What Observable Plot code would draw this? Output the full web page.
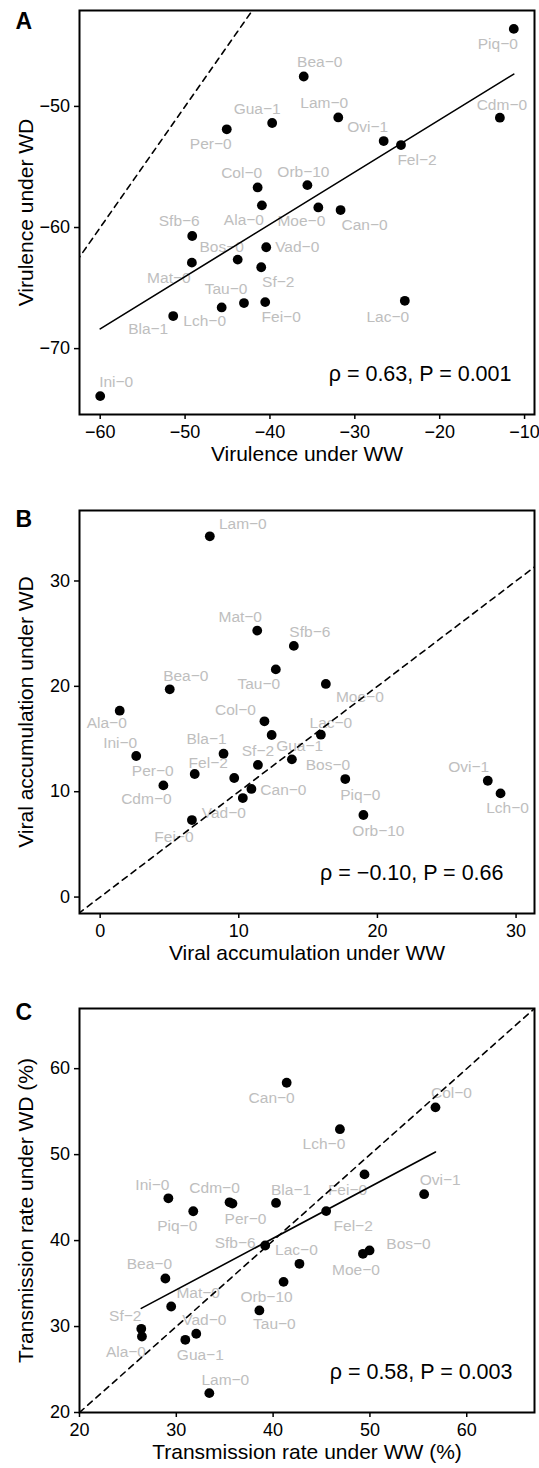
<!DOCTYPE html>
<html><head><meta charset="utf-8">
<script src="https://cdn.jsdelivr.net/npm/d3@7"></script>
<script src="https://cdn.jsdelivr.net/npm/@observablehq/plot@0.6"></script>
<style>
body{margin:0;background:#fff;}
#chart{width:539px;}
#chart svg{display:block;}
</style></head><body><div id="chart"></div>
<script>
// ---------- data ----------
const accessions = ["Ala-0","Bea-0","Bla-1","Bos-0","Can-0","Cdm-0","Col-0","Fei-0","Fel-2","Gua-1","Ini-0","Lac-0","Lam-0","Lch-0","Mat-0","Moe-0","Orb-10","Ovi-1","Per-0","Piq-0","Sf-2","Sfb-6","Tau-0","Vad-0"];

// A: virulence
const virulenceWW = [-40.95,-36.02,-51.40,-43.80,-31.68,-12.91,-41.45,-40.56,-24.56,-39.74,-60.00,-24.11,-31.95,-45.69,-49.20,-34.30,-35.59,-26.60,-45.09,-11.27,-41.03,-49.16,-43.06,-40.44];
const virulenceWD = [-58.17,-47.53,-67.31,-62.65,-58.56,-50.93,-56.69,-66.16,-53.19,-51.37,-73.92,-66.05,-50.91,-66.60,-62.90,-58.34,-56.50,-52.86,-51.89,-43.60,-63.28,-60.70,-66.24,-61.63];

// B: viral accumulation
const accumWW = [1.41,5.02,8.90,13.83,10.91,4.56,11.85,6.62,9.67,12.37,2.60,15.92,7.91,28.88,11.33,16.28,18.99,27.96,6.82,17.68,11.38,13.97,12.67,10.29];
const accumWD = [17.69,19.72,13.61,13.07,10.26,10.60,16.68,7.31,11.30,15.38,13.39,15.41,34.24,9.84,25.29,20.23,7.79,11.04,11.68,11.20,12.54,23.84,21.61,9.40];

// C: transmission rate (%)
const transWW = [26.45,28.87,40.30,49.96,41.40,35.50,56.77,49.44,45.48,30.93,29.18,42.72,33.41,46.90,29.47,49.28,41.08,55.60,35.80,31.75,26.38,39.18,38.58,32.06];
const transWD = [28.84,35.59,44.38,38.85,58.36,44.45,55.50,47.70,43.43,28.46,44.92,37.30,22.25,52.96,32.33,38.46,35.20,45.40,44.30,43.41,29.74,39.43,31.87,29.16];

// axis ticks / domains
const ticksAx = [-60,-50,-40,-30,-20,-10], ticksAy = [-70,-60,-50];
const ticksBx = [0,10,20,30], ticksBy = [0,10,20,30];
const ticksCx = [20,30,40,50,60], ticksCy = [20,30,40,50,60];
const domainAx = [-62.44,-8.83], domainAy = [-75.44,-42.08];
const domainBx = [-1.49,31.33], domainBy = [-1.56,36.69];
const domainCx = [20,67], domainCy = [20,67];

const statA = "ρ = 0.63, P = 0.001";
const statB = "ρ = −0.10, P = 0.66";
const statC = "ρ = 0.58, P = 0.003";

// label placement (pixel offsets, layout only)
const offsetsA = {"Ala-0":[-18,15],"Bea-0":[16,-14],"Bla-1":[-25,13],"Bos-0":[-16,-13],"Can-0":[24,15],"Cdm-0":[2,-13],"Col-0":[-16,-14],"Fei-0":[16,15],"Fel-2":[16,15],"Gua-1":[-15,-14],"Ini-0":[16,-14],"Lac-0":[-17,16],"Lam-0":[-14,-14],"Lch-0":[-17,14],"Mat-0":[-23,15],"Moe-0":[-17,14],"Orb-10":[-4,-13],"Ovi-1":[-16,-14],"Per-0":[-16,15],"Piq-0":[-16,15],"Sf-2":[17,15],"Sfb-6":[-13,-15],"Tau-0":[-18,-14],"Vad-0":[31,0]};
const offsetsB = {"Ala-0":[-13,12],"Bea-0":[16,-13],"Bla-1":[-17,-15],"Bos-0":[36,6],"Can-0":[32,1],"Cdm-0":[-17,14],"Col-0":[-29,-11],"Fei-0":[-18,17],"Fel-2":[-26,-15],"Gua-1":[28,11],"Ini-0":[-16,-13],"Lac-0":[10,-12],"Lam-0":[33,-12],"Lch-0":[7,15],"Mat-0":[-17,-14],"Moe-0":[34,13],"Orb-10":[15,16],"Ovi-1":[-19,-14],"Per-0":[-42,-3],"Piq-0":[15,16],"Sf-2":[0,-14],"Sfb-6":[16,-14],"Tau-0":[-17,15],"Vad-0":[-19,15]};
const offsetsC = {"Ala-0":[-16,16],"Bea-0":[-16,-14],"Bla-1":[15,-13],"Bos-0":[39,-6],"Can-0":[-15,15],"Cdm-0":[-15,-14],"Col-0":[16,-14],"Fei-0":[-17,16],"Fel-2":[27,15],"Gua-1":[15,15],"Ini-0":[-16,-13],"Lac-0":[-3,-14],"Lam-0":[16,-13],"Lch-0":[-16,15],"Mat-0":[27,-13],"Moe-0":[-7,16],"Orb-10":[-17,15],"Ovi-1":[16,-14],"Per-0":[13,15],"Piq-0":[-16,15],"Sf-2":[-16,-13],"Sfb-6":[-30,-2],"Tau-0":[15,14],"Vad-0":[8,-14]};

// ---------- drawing ----------
const FONT = '"Liberation Sans", Arial, Helvetica, sans-serif';
const fmt = d3.format("d");

function panel(cfg) {
  const data = accessions.map((name, i) => ({name, x: cfg.xs[i], y: cfg.ys[i]}));
  const lo = Math.min(cfg.xDomain[0], cfg.yDomain[0]);
  const hi = Math.max(cfg.xDomain[1], cfg.yDomain[1]);
  const identity = [{v: lo}, {v: hi}];
  const marks = [];
  for (const d of data) {
    const [dx, dy] = cfg.offsets[d.name];
    marks.push(Plot.text([d], {x: "x", y: "y", text: (p) => p.name.replace(/-/g, "−"), dx, dy,
      fill: "#bebebe", fontSize: 15.5, lineAnchor: "middle", textAnchor: "middle"}));
  }
  marks.push(Plot.line(identity, {x: "v", y: "v", stroke: "black", strokeWidth: 1.6, strokeDasharray: "6,5", clip: true}));
  if (cfg.fit) marks.push(Plot.linearRegressionY(data, {x: "x", y: "y", ci: 0, stroke: "black", strokeWidth: 1.6}));
  marks.push(Plot.dot(data, {x: "x", y: "y", r: 4.9, fill: "black", stroke: "none"}));
  marks.push(Plot.frame({stroke: "black", strokeWidth: 2}));
  marks.push(Plot.axisX({ticks: cfg.xTicks, tickFormat: fmt, tickSize: 5, tickPadding: 6, strokeWidth: 1.5, label: null}));
  marks.push(Plot.axisY({ticks: cfg.yTicks, tickFormat: fmt, tickSize: 5, tickPadding: 4.5, strokeWidth: 1.5, label: null}));
  marks.push(Plot.text([cfg.xTitle], {frameAnchor: "bottom", text: (d) => d, dy: 40, fontSize: 21, lineAnchor: "middle", textAnchor: "middle", fill: "black"}));
  marks.push(Plot.text([cfg.yTitle], {frameAnchor: "left", text: (d) => d, rotate: -90, dx: -53, fontSize: 21, lineAnchor: "middle", textAnchor: "middle", fill: "black"}));
  marks.push(Plot.text([cfg.stat], {frameAnchor: "bottom-right", text: (d) => d, dx: cfg.statDx, dy: -40, textAnchor: "end", fontSize: 21.5, lineAnchor: "middle", fill: "black"}));
  marks.push(Plot.text([cfg.letter], {frameAnchor: "top-left", text: (d) => d, dx: -64, dy: cfg.letterDy, fontSize: 23, fontWeight: "bold", textAnchor: "start", lineAnchor: "top", fill: "black"}));
  return Plot.plot({
    width: 539, height: cfg.height,
    marginTop: cfg.marginTop, marginBottom: cfg.marginBottom, marginLeft: 79, marginRight: 5,
    style: {fontFamily: FONT, fontSize: "18px", color: "black", background: "white", overflow: "visible"},
    x: {domain: cfg.xDomain}, y: {domain: cfg.yDomain},
    marks
  });
}

const chart = document.getElementById("chart");
chart.append(panel({letter: "A", xs: virulenceWW, ys: virulenceWD, xDomain: domainAx, yDomain: domainAy,
  xTicks: ticksAx, yTicks: ticksAy, xTitle: "Virulence under WW", yTitle: "Virulence under WD",
  stat: statA, statDx: -23, offsets: offsetsA, fit: true, height: 499, marginTop: 10, marginBottom: 85, letterDy: 2}));
chart.append(panel({letter: "B", xs: accumWW, ys: accumWD, xDomain: domainBx, yDomain: domainBy,
  xTicks: ticksBx, yTicks: ticksBy, xTitle: "Viral accumulation under WW", yTitle: "Viral accumulation under WD",
  stat: statB, statDx: -31, offsets: offsetsB, fit: false, height: 499, marginTop: 11, marginBottom: 85, letterDy: 0}));
chart.append(panel({letter: "C", xs: transWW, ys: transWD, xDomain: domainCx, yDomain: domainCy,
  xTicks: ticksCx, yTicks: ticksCy, xTitle: "Transmission rate under WW (%)", yTitle: "Transmission rate under WD (%)",
  stat: statC, statDx: -22, offsets: offsetsC, fit: true, height: 470, marginTop: 10, marginBottom: 56, letterDy: -5}));
</script></body></html>
